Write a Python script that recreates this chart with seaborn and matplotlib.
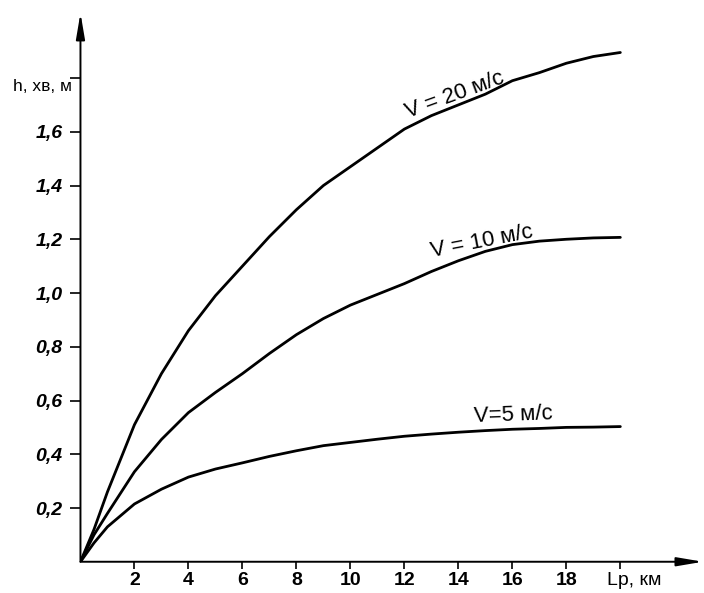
import pandas as pd
import matplotlib.pyplot as plt
import seaborn as sns

# distance L, km and wave height h, m
dist_km = [0, 0.5, 1, 2, 3, 4, 5, 6, 7, 8, 9, 10, 11, 12, 13, 14, 15, 16, 17, 18, 19, 20]
h_v20 = [0, 0.12, 0.26, 0.51, 0.70, 0.86, 0.99, 1.10, 1.21, 1.31, 1.40, 1.47, 1.54, 1.61,
         1.66, 1.70, 1.74, 1.79, 1.82, 1.855, 1.88, 1.895]
h_v10 = [0, 0.10, 0.18, 0.335, 0.455, 0.555, 0.63, 0.70, 0.775, 0.845, 0.905, 0.955, 0.995,
         1.035, 1.08, 1.12, 1.155, 1.18, 1.193, 1.20, 1.205, 1.207]
h_v5 = [0, 0.07, 0.13, 0.215, 0.27, 0.315, 0.345, 0.368, 0.392, 0.413, 0.432, 0.444, 0.456,
        0.467, 0.475, 0.482, 0.488, 0.493, 0.496, 0.50, 0.501, 0.503]

curve_labels = ["V = 20 м/с", "V = 10 м/с", "V=5 м/с"]
label_pos = [(13.87, 1.735, 20), (14.88, 1.19, 11), (16.03, 0.545, 2)]

x_ticks = [2, 4, 6, 8, 10, 12, 14, 16, 18, 20]
x_ticklabels = ["2", "4", "6", "8", "10", "12", "14", "16", "18", ""]
y_ticks = [0.2, 0.4, 0.6, 0.8, 1.0, 1.2, 1.4, 1.6, 1.8]
y_ticklabels = ["0,2", "0,4", "0,6", "0,8", "1,0", "1,2", "1,4", "1,6", ""]

df = pd.DataFrame({
    "L": dist_km * 3,
    "h": h_v20 + h_v10 + h_v5,
    "V": ["20"] * len(dist_km) + ["10"] * len(dist_km) + ["5"] * len(dist_km),
})

sns.set_theme(style="white")
plt.rcParams["font.family"] = ["Liberation Sans", "DejaVu Sans"]
plt.rcParams["text.color"] = "black"
plt.rcParams["xtick.color"] = "black"
plt.rcParams["ytick.color"] = "black"

fig = plt.figure(figsize=(7.04, 5.93), dpi=100)
ax = fig.add_axes([0.1143, 0.0527, 0.8842, 0.9254])

sns.lineplot(data=df, x="L", y="h", hue="V", palette=["black"] * 3,
             linewidth=2.0, legend=False, ax=ax)

ax.set_xlim(0, 23.06)
ax.set_ylim(0, 2.042)
for s in ax.spines.values():
    s.set_visible(False)

# axes drawn as arrows
arrow = dict(arrowstyle="-|>,head_length=1.3,head_width=0.22", color="black", lw=1.4,
             shrinkA=0, shrinkB=0)
ax.annotate("", xy=(0, 1), xytext=(0, 0), xycoords="axes fraction", arrowprops=arrow)
ax.annotate("", xy=(1, 0), xytext=(0, 0), xycoords="axes fraction", arrowprops=arrow)

ax.set_xticks(x_ticks)
ax.set_xticklabels(x_ticklabels, fontsize=14, fontweight="bold")
ax.set_yticks(y_ticks)
ax.set_yticklabels(y_ticklabels, fontsize=14, fontweight="bold", style="italic")
ax.tick_params(axis="x", direction="out", length=5, width=1.2, pad=2.5, bottom=True)
ax.tick_params(axis="y", direction="out", length=7, width=1.2, pad=6, left=True)
ax.set_xlabel("")
ax.set_ylabel("")

ax.text(-0.3, 1.77, "h, хв, м", ha="right", va="center", fontsize=12.5, clip_on=False)
ax.text(19.5, -0.068, "Lр, км", ha="left", va="center", fontsize=14, clip_on=False)

for text, (lx, ly, rot) in zip(curve_labels, label_pos):
    ax.text(lx, ly, text, ha="center", va="center", rotation=rot, fontsize=16,
            rotation_mode="anchor")

fig.savefig("out.png", dpi=100)
